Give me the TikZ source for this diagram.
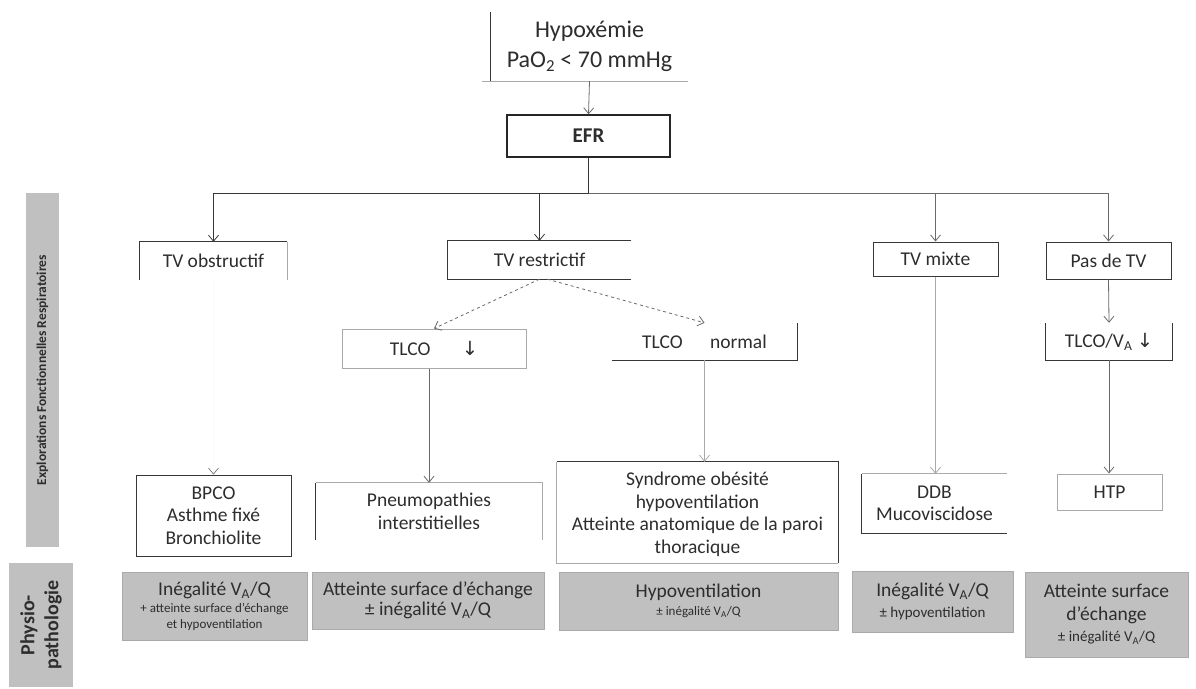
\documentclass[tikz,border=0pt]{standalone}
\usepackage{fontspec}
\setmainfont{Carlito}
\newfontfamily\symf{DejaVu Sans}
\usetikzlibrary{arrows.meta,calc}
\definecolor{txt}{RGB}{45,45,45}
\definecolor{fillg}{RGB}{192,192,192}
\definecolor{dk}{RGB}{55,55,55}
\definecolor{lt}{RGB}{170,170,170}
\definecolor{ln}{RGB}{105,105,105}
\newcommand\smallt{\fontsize{13}{15}\selectfont}
\newcommand\medt{\fontsize{15}{17}\selectfont}
\begin{document}
\begin{tikzpicture}[x=1pt,y=-1pt,
  box/.style={inner sep=0pt, align=center, text=txt, font=\fontsize{19.5}{22.5}\selectfont},
  full/.style={box, draw=dk, line width=1pt},
  gbox/.style={inner sep=0pt, align=center, fill=fillg, draw=lt, line width=0.5pt, text=txt, font=\fontsize{19.5}{22.5}\selectfont},
  bar/.style={inner sep=0pt, align=center, fill=fillg, text=txt},
  arr/.style={-{Straight Barb[length=6pt,width=10pt]}, draw=ln, line width=0.8pt},
  dkl/.style={draw=dk, line width=1pt},
  ltl/.style={draw=lt, line width=0.8pt},
  faint/.style={-{Straight Barb[length=6pt,width=10pt,color=ln]}, draw=black!2, line width=0.6pt}]
\useasboundingbox (0,0) rectangle (1196,688);

% side bars
\node[bar, rotate=90, minimum width=354, minimum height=33, font=\bfseries\fontsize{13.5}{15}\selectfont] (efrbar) at (42.5,370) {Explorations Fonctionnelles Respiratoires};
\node[bar, rotate=90, minimum width=124, minimum height=64, font=\bfseries\fontsize{20}{24}\selectfont] (physbar) at (41,625) {Physio-\\pathologie};

% top
\node[box, minimum width=197, minimum height=69, font=\fontsize{24}{30}\selectfont] (hyp) at (589.5,46.5) {Hypoxémie\\PaO\textsubscript{2} < 70 mmHg};
\draw[dkl] (hyp.north west) -- (hyp.south west);
\draw[ltl] ($(hyp.south west)+(-9,0)$) -- (hyp.south east);
\node[full, draw=black!85, line width=1.3pt, minimum width=163, minimum height=42, font=\bfseries\fontsize{21}{24}\selectfont] (efr) at (588.5,136) {EFR};

% level 1
\node[box, minimum width=147, minimum height=38] (tvo) at (213.5,261) {TV obstructif};
\draw[dkl] (tvo.south west) -- (tvo.north west) -- (tvo.north east);
\draw[ltl] (tvo.north east) -- (tvo.south east);
\node[box, minimum width=183, minimum height=38] (tvr) at (539.5,260) {TV restrictif};
\draw[dkl] (tvr.north east) -- (tvr.north west) -- (tvr.south west) -- (tvr.south east);
\node[full, minimum width=125, minimum height=34] (tvm) at (935.5,259) {TV mixte};
\node[full, minimum width=125, minimum height=37] (pas) at (1108.5,260.5) {Pas de TV};

% level 2
\node[full, draw=lt, minimum width=184, minimum height=39] (tlcod) at (434,348.5) {TLCO\hspace{1.6em}{\symf ↓}};
\node[box, minimum width=185, minimum height=37] (tlcon) at (704.5,341.5) {TLCO\hspace{1.4em}normal};
\draw[dkl] (tlcon.north east) -- (tlcon.south east) -- (tlcon.south west);
\node[box, minimum width=126, minimum height=37] (tlcova) at (1109,341.5) {TLCO/V\textsubscript{A} {\symf ↓}};
\draw[dkl] (tlcova.north west) -- (tlcova.south west) -- (tlcova.south east) -- (tlcova.north east);

% level 3
\node[full, minimum width=155, minimum height=81] (bpco) at (213.5,515.5) {BPCO\\Asthme fixé\\Bronchiolite};
\node[box, minimum width=226, minimum height=57] (pneu) at (429,511.5) {Pneumopathies\\interstitielles};
\draw[dkl] (pneu.south west) -- (pneu.north west);
\draw[ltl] (pneu.north west) -- (pneu.north east) -- (pneu.south east);
\node[box, minimum width=281, minimum height=101, text depth=-5pt] (synd) at (697.5,512.5) {Syndrome obésité\\hypoventilation\\Atteinte anatomique de la paroi\\thoracique};
\draw[dkl] (synd.north west) -- (synd.north east) -- (synd.south east);
\draw[ltl] (synd.south east) -- (synd.south west) -- (synd.north west);
\node[box, minimum width=145, minimum height=59] (ddb) at (934.5,503.5) {DDB\\Mucoviscidose};
\draw[ltl] (ddb.north east) -- (ddb.north west);
\draw[dkl] (ddb.north west) -- (ddb.south west) -- (ddb.south east);
\node[full, draw=lt, minimum width=105, minimum height=36] (htp) at (1109.5,492) {HTP};

% physiopathology
\node[gbox, minimum width=185, minimum height=68] (g1) at (214.5,606) {Inégalité V\textsubscript{A}/Q\\[-5pt]{\smallt + atteinte surface d’échange}\\[-7pt]{\smallt et hypoventilation}};
\node[gbox, minimum width=232, minimum height=57] (g2) at (428,600.5) {Atteinte surface d’échange\\[-3pt]± inégalité V\textsubscript{A}/Q};
\node[gbox, minimum width=279, minimum height=58] (g3) at (698.5,601) {Hypoventilation\\[-4pt]{\smallt ± inégalité V\textsubscript{A}/Q}};
\node[gbox, minimum width=161, minimum height=61] (g4) at (932.5,601.5) {Inégalité V\textsubscript{A}/Q\\[-2pt]{\medt ± hypoventilation}};
\node[gbox, minimum width=163, minimum height=85] (g5) at (1106.5,614.5) {Atteinte surface\\d’échange\\[-1pt]{\medt ± inégalité V\textsubscript{A}/Q}};

% connectors
\coordinate (bus) at (588.5,193);
\draw[arr] (hyp.south) -- (efr.north);
\draw[dkl] (efr.south) -- (bus);
\draw[arr, draw=dk] (bus) -| (tvo.north);
\draw[arr, draw=dk] (bus) -| (tvr.north);
\draw[arr] (bus) -| (tvm.north);
\draw[arr] (bus) -| (pas.north);
\draw[arr, dashed] (tvr.south) -- (tlcod.north);
\draw[arr, dashed] ($(tvr.south)+(8,0)$) -- (tlcon.north);
\draw[arr] (pas.south) -- (tlcova.north);
\draw[arr] (tlcova.south) -- (tlcova.south |- htp.north);
\draw[arr, draw=lt] (tvm.south) -- (tvm.south |- ddb.north);
\draw[arr] (tlcod.south -| pneu.north) -- (pneu.north);
\draw[arr, draw=lt] (tlcon.south) -- (tlcon.south |- synd.north);
\draw[faint] (tvo.south) -- (bpco.north);
\end{tikzpicture}
\end{document}
